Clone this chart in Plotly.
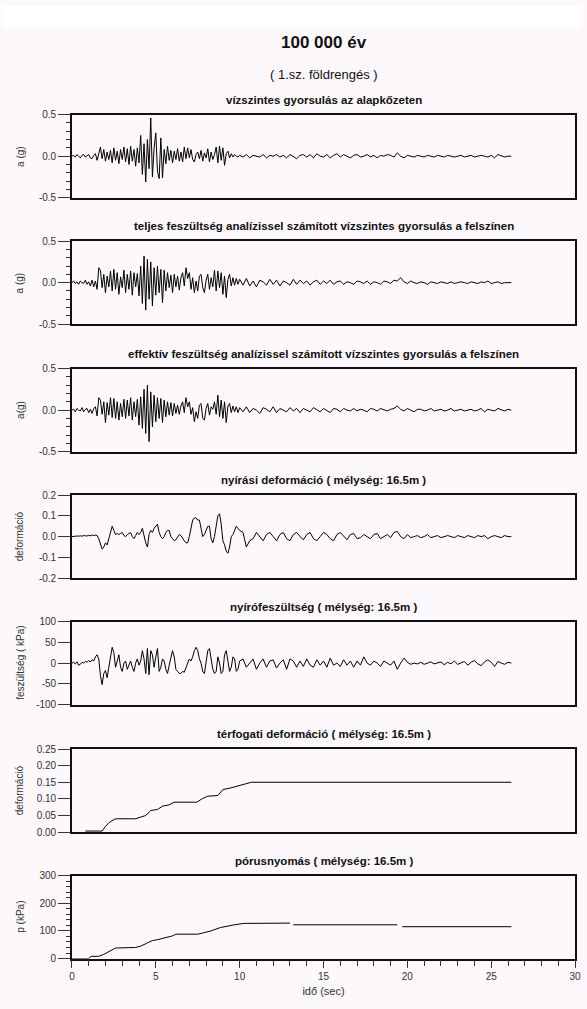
import plotly.graph_objects as go

W, H = 587, 1009

# ---------------- data ----------------
t_fine = [round(0.1 * i, 1) for i in range(100)]          # 0.0 .. 9.9 s
t_coarse = [round(10 + 0.2 * i, 1) for i in range(82)]    # 10.0 .. 26.2 s
time_s = t_fine + t_coarse

acc_rock = [
    0.00, 0.01, -0.01, 0.02, 0.00, -0.02, 0.01, 0.02, -0.01, 0.00, 0.02, -0.02, -0.03, 0.01, 0.03,
    -0.05, 0.04, 0.11, -0.03, 0.08,
    -0.06, 0.05, -0.04, 0.07, -0.08,
    0.10, -0.05, 0.06, -0.09, 0.08,
    -0.04, 0.11, -0.07, 0.09, -0.10,
    0.12, -0.06, 0.08, -0.12, 0.10,
    -0.08, 0.25, -0.22, 0.15, -0.31,
    0.20, -0.15, 0.46, -0.25, 0.10,
    0.28, -0.18, -0.27, 0.22, -0.26,
    0.08, -0.09, 0.12, -0.05, 0.07,
    -0.08, 0.06, -0.04, 0.09, -0.06,
    0.05, -0.07, 0.11, -0.03, 0.10,
    -0.02, 0.08, -0.04, -0.07, 0.02,
    0.05, -0.03, 0.07, -0.06, 0.04,
    -0.02, 0.09, -0.07, 0.05, -0.04,
    0.02, 0.11, -0.08, 0.12, -0.05,
    0.10, -0.11, 0.03, 0.06, -0.02,
    0.03, -0.01, 0.02, 0.00, -0.01,
    0.01, -0.01, 0.02, -0.02, 0.01, 0.00, -0.01, 0.02, -0.02, 0.01,
    0.00, 0.02, -0.01, 0.01, -0.02, 0.02, 0.00, -0.03, 0.01, 0.02,
    -0.01, 0.02, -0.02, 0.03, 0.00, -0.01, 0.02, -0.02, 0.01, 0.03,
    -0.01, 0.02, 0.00, -0.02, 0.01, 0.02, -0.01, 0.00, 0.02, -0.01,
    0.01, -0.02, 0.01, 0.00, 0.02, 0.01, -0.01, 0.04, 0.00, -0.02,
    0.01, 0.00, -0.01, 0.01, 0.00, -0.01, 0.01, 0.00, -0.01, 0.01,
    0.00, -0.01, 0.01, 0.00, -0.01, 0.00, 0.01, -0.01, 0.00, 0.01,
    -0.01, 0.00, 0.01, 0.00, -0.01, 0.01, -0.02, 0.02, 0.00, -0.01,
    0.00, 0.00,
]

acc_total = [
    0.00, 0.02, -0.01, 0.01, -0.02, 0.02, 0.00, -0.01, 0.03, -0.02, 0.01, -0.04, 0.03, -0.05, 0.02,
    -0.08, 0.18, 0.15, -0.06, 0.10,
    -0.12, 0.08, -0.05, 0.14, -0.10,
    0.16, -0.08, 0.12, -0.14, 0.07,
    -0.06, 0.15, -0.12, 0.10, -0.08,
    0.14, -0.15, 0.12, -0.05, 0.11,
    -0.16, 0.20, -0.25, 0.32, -0.33,
    0.28, -0.20, 0.25, -0.28, 0.18,
    -0.15, 0.20, -0.12, 0.16, -0.24,
    0.15, -0.10, 0.12, -0.06, 0.09,
    -0.12, 0.10, -0.05, 0.08, -0.09,
    0.06, 0.12, -0.04, 0.18, 0.05,
    0.12, -0.08, 0.06, -0.12, 0.02,
    -0.10, 0.08, 0.10, -0.06, -0.12,
    0.03, 0.10, -0.08, 0.06, -0.05,
    0.15, -0.10, 0.14, -0.06, 0.12,
    -0.14, 0.08, -0.18, 0.04, 0.10,
    -0.04, 0.06, -0.03, 0.05, -0.02,
    0.04, -0.03, 0.05, -0.04, 0.02, -0.05, 0.03, 0.01, -0.03, 0.04,
    -0.02, 0.03, -0.04, 0.02, 0.00, -0.03, 0.04, -0.02, 0.03, -0.01,
    0.02, -0.03, 0.01, 0.03, -0.02, 0.02, -0.01, 0.03, -0.02, 0.01,
    0.02, -0.02, 0.01, 0.00, -0.02, 0.02, 0.01, -0.01, 0.02, -0.02,
    0.01, 0.00, -0.02, 0.02, 0.01, -0.01, 0.03, 0.02, 0.06, 0.01,
    -0.01, 0.02, 0.00, -0.01, 0.01, 0.00, -0.02, 0.01, 0.00, -0.01,
    0.01, 0.00, -0.01, 0.01, -0.01, 0.00, 0.01, 0.00, -0.01, 0.01,
    0.00, -0.01, 0.01, 0.00, 0.02, -0.01, 0.00, 0.01, -0.01, 0.00,
    0.00, 0.00,
]

acc_eff = [
    0.00, 0.01, -0.02, 0.02, 0.00, -0.01, 0.03, -0.02, 0.01, 0.02, -0.03, 0.01, -0.04, 0.02, 0.04,
    -0.07, 0.15, 0.12, -0.05, 0.10,
    -0.15, 0.09, -0.06, 0.15, -0.09,
    0.14, -0.10, 0.10, -0.12, 0.08,
    -0.08, 0.13, -0.10, 0.12, -0.07,
    0.15, -0.12, 0.10, -0.08, 0.13,
    -0.18, 0.16, -0.22, 0.25, -0.28,
    0.30, -0.38, 0.22, -0.20, 0.18,
    -0.14, 0.15, -0.10, 0.14, -0.15,
    0.12, -0.08, 0.10, -0.06, 0.09,
    -0.07, 0.08, -0.04, 0.06, -0.05,
    0.05, 0.10, -0.03, 0.15, 0.04,
    0.10, -0.05, 0.03, -0.14, -0.02,
    -0.10, 0.06, 0.08, -0.10, -0.12,
    0.02, 0.08, -0.06, 0.04, 0.01,
    0.10, -0.05, 0.18, -0.08, 0.12,
    -0.10, 0.10, -0.15, 0.05, 0.08,
    -0.03, 0.05, -0.02, 0.04, -0.03,
    0.03, -0.02, 0.04, -0.03, 0.02, 0.00, -0.04, 0.03, 0.01, -0.02,
    0.04, -0.03, 0.02, 0.00, -0.02, 0.03, -0.01, 0.02, -0.03, 0.02,
    0.00, -0.02, 0.03, 0.01, -0.02, 0.02, 0.00, -0.03, 0.02, 0.01,
    -0.02, 0.02, 0.00, -0.01, 0.02, -0.01, 0.01, 0.00, -0.02, 0.02,
    0.01, -0.01, 0.02, 0.00, -0.01, 0.01, 0.02, 0.05, 0.01, -0.01,
    0.02, 0.00, -0.02, 0.01, 0.01, -0.01, 0.00, 0.02, -0.01, 0.00,
    0.01, -0.01, 0.00, 0.02, -0.01, 0.00, 0.01, -0.01, 0.00, 0.01,
    -0.01, 0.00, 0.02, -0.02, 0.01, 0.00, -0.01, 0.02, 0.00, -0.01,
    0.01, 0.00,
]

shear_strain = [
    0.000, 0.002, 0.001, 0.003, 0.002, 0.004, 0.002, 0.005, 0.004, 0.003, 0.006, 0.004, 0.008, 0.005, 0.007,
    0.005, -0.01, -0.04, -0.06, -0.05,
    -0.03, -0.04, -0.01, 0.02, 0.05,
    0.03, 0.01, 0.015, 0.01, 0.015,
    0.02, 0.005, 0.00, 0.01, 0.015,
    0.02, 0.00, -0.01, 0.005, 0.02,
    0.01, 0.02, 0.04, 0.00, -0.03,
    -0.05, 0.01, 0.03, 0.02, 0.04,
    0.05, 0.06, 0.02, 0.00, -0.01,
    0.00, 0.02, 0.03, 0.03, 0.00,
    -0.01, -0.02, -0.015, 0.00, 0.01,
    0.005, -0.01, -0.02, -0.03, -0.03,
    0.00, 0.04, 0.08, 0.09, 0.09,
    0.08, 0.08, 0.04, 0.00, 0.01,
    0.03, 0.05, 0.05, -0.01, -0.03,
    0.00, 0.05, 0.10, 0.11, 0.06,
    -0.02, -0.04, -0.07, -0.08, -0.05,
    0.00, 0.01, 0.03, 0.05, 0.04,
    0.03, 0.02, -0.05, -0.02, -0.01, 0.02, 0.00, -0.02, 0.01, 0.02,
    0.00, -0.02, 0.01, 0.02, -0.01, -0.02, 0.01, 0.02, 0.00, -0.015,
    0.01, 0.02, -0.01, -0.02, 0.00, 0.02, 0.01, -0.01, -0.02, 0.01,
    0.02, 0.00, -0.015, 0.01, 0.015, -0.01, -0.005, 0.01, 0.00, -0.01,
    0.01, 0.015, -0.01, 0.00, 0.01, -0.005, 0.02, 0.025, 0.00, -0.01,
    0.01, -0.005, 0.00, 0.005, -0.005, 0.00, 0.01, -0.005, 0.00, 0.005,
    -0.005, 0.00, 0.005, 0.00, -0.005, 0.005, 0.00, -0.005, 0.005, 0.00,
    -0.005, 0.005, 0.00, 0.005, -0.01, 0.00, 0.005, 0.00, -0.005, 0.005,
    0.00, 0.00,
]

shear_stress = [
    0, 2, -2, 3, -5, -3, 2, 0, 4, 2, 6, 3, 8, 5, 15,
    20, 10, -30, -52, -25,
    -18, -35, -10, 15, 38,
    25, -10, 5, 20, -10,
    -20, 0, 5, -15, -5,
    5, -10, -20, 0, 10,
    -5, 5, 30, 10, -25,
    35, -28, 30, 20, -10,
    15, 35, -20, -10, 10,
    5, -15, -25, -5, 10,
    30, 15, -15, -20, -25,
    -25, -20, -22, -10, 0,
    10, 5, 15, 30, 38,
    30, 10, 0, -20, -25,
    5, 30, 35, 10, -15,
    -25, -20, 15, 0, -25,
    -20, 20, 30, 5, -20,
    -10, 15, 10, -20, -15,
    5, 10, -10, 0, 10, -15, 0, 10, -10, 5,
    8, -12, 0, 8, -15, 10, 5, -10, 5, -8,
    10, -5, -10, 8, -5, 5, -10, 12, -5, 0,
    -8, 8, -5, 5, -10, 5, -5, 15, 0, -5,
    5, 0, -8, 5, 0, -5, 5, -15, 0, 12,
    2, -3, 0, -2, 2, -3, 0, 3, -2, 0,
    3, -4, 2, -2, 5, -3, 0, 4, -5, 2,
    6, -2, -6, 3, 8, 2, -8, 4, 0, -3,
    2, 0,
]

vol_t = [0.8, 1.8, 2.0, 2.25, 2.55, 2.7, 3.8, 4.1, 4.4, 4.7, 5.1, 5.4, 5.8, 6.1,
         7.45, 7.75, 8.1, 8.7, 9.0, 9.4, 9.8, 10.3, 10.7, 26.2]
vol_strain = [0.003, 0.003, 0.017, 0.03, 0.039, 0.04, 0.04, 0.045, 0.05, 0.065, 0.068,
              0.078, 0.082, 0.09, 0.09, 0.10, 0.108, 0.11, 0.128, 0.132, 0.138, 0.145,
              0.15, 0.15]

pore_t = [0, 1.0, 1.15, 1.6, 1.9, 2.25, 2.6, 3.8, 4.1, 4.45, 4.8, 5.1, 5.55, 6.0, 6.2,
          7.5, 7.85, 8.3, 8.85, 9.2, 9.7, 10.25, 13.0, 13.1, 13.2, 19.4, 19.55, 19.7, 26.2]
pore_p = [0, 0, 8, 8, 15, 28, 38, 40, 45, 55, 65, 68, 75, 82, 88, 88, 93, 100, 112, 117,
          122, 127, 128, None, 122, 122, None, 115, 115]

x_ticks = [0, 5, 10, 15, 20, 25, 30]

panel_titles = [
    "vízszintes gyorsulás az alapkőzeten",
    "teljes feszültség analízissel számított vízszintes gyorsulás a felszínen",
    "effektív feszültség analízissel számított vízszintes gyorsulás a felszínen",
    "nyírási deformáció ( mélység: 16.5m )",
    "nyírófeszültség ( mélység: 16.5m )",
    "térfogati deformáció ( mélység: 16.5m )",
    "pórusnyomás ( mélység: 16.5m )",
]
y_titles = ["a (g)", "a (g)", "a(g)", "deformáció", "feszültség ( kPa)", "deformáció", "p (kPa)"]

y_ranges = [[-0.5, 0.5], [-0.5, 0.5], [-0.5, 0.5], [-0.2, 0.2], [-100, 100], [0, 0.25], [0, 300]]
y_tickvals = [
    [-0.5, 0.0, 0.5], [-0.5, 0.0, 0.5], [-0.5, 0.0, 0.5],
    [-0.2, -0.1, 0.0, 0.1, 0.2],
    [-100, -50, 0, 50, 100],
    [0, 0.05, 0.10, 0.15, 0.20, 0.25],
    [0, 100, 200, 300],
]
y_ticktext = [
    ["-0.5", "0.0", "0.5"], ["-0.5", "0.0", "0.5"], ["-0.5", "0.0", "0.5"],
    ["-0.2", "-0.1", "0.0", "0.1", "0.2"],
    ["-100", "-50", "0", "50", "100"],
    ["0.00", "0.05", "0.10", "0.15", "0.20", "0.25"],
    ["0", "100", "200", "300"],
]
y_minor = [
    [-0.4, -0.3, -0.2, -0.1, 0.1, 0.2, 0.3, 0.4],
    [-0.4, -0.3, -0.2, -0.1, 0.1, 0.2, 0.3, 0.4],
    [-0.4, -0.3, -0.2, -0.1, 0.1, 0.2, 0.3, 0.4],
    [], [], [],
    [20, 40, 60, 80, 120, 140, 160, 180, 220, 240, 260, 280],
]

# ---------------- layout helpers ----------------
FONT = "Liberation Sans, Arial, sans-serif"
BG = "#FCF8FC"
X0, X1 = 70, 581
tops = [110, 238, 367, 495, 623, 752, 880]
PH = 84


def py(px):
    return 1 - px / H


series = [
    (time_s, acc_rock), (time_s, acc_total), (time_s, acc_eff),
    (time_s, shear_strain), (time_s, shear_stress),
    (vol_t, vol_strain), (pore_t, pore_p),
]

fig = go.Figure()
layout = dict(
    width=W, height=H,
    margin=dict(l=0, r=0, t=0, b=0),
    paper_bgcolor=BG, plot_bgcolor=BG,
    showlegend=False,
    font=dict(family=FONT, size=10, color="#222"),
)
annotations = []

for i, (xs, ys) in enumerate(series):
    n = i + 1
    sx = "" if n == 1 else str(n)
    fig.add_trace(go.Scatter(
        x=xs, y=ys, mode="lines", xaxis="x" + sx, yaxis="y" + sx,
        line=dict(color="black", width=1), connectgaps=False,
    ))
    top = tops[i]
    bot = top + PH
    last = (n == 7)
    layout["xaxis" + sx] = dict(
        domain=[X0 / W, X1 / W], range=[0, 30], anchor="y" + sx,
        showline=True, mirror=True, linecolor="#111", linewidth=1.5,
        showgrid=False, zeroline=False,
        showticklabels=last,
        tickvals=x_ticks if last else [],
        ticks="outside" if last else "",
        ticklen=8, tickcolor="#333", tickwidth=1,
        minor=dict(tickvals=[v for v in range(1, 30) if v % 5] if last else [],
                   ticks="outside" if last else "", ticklen=6, tickcolor="#333"),
        tickfont=dict(size=10, color="#333"),
        title=dict(text="idő (sec)" if last else "", font=dict(size=11, color="#333"), standoff=6),
    )
    layout["yaxis" + sx] = dict(
        domain=[py(bot), py(top)], range=y_ranges[i], anchor="x" + sx,
        showline=True, mirror=True, linecolor="#111", linewidth=1.5,
        showgrid=False, zeroline=False,
        tickmode="array", tickvals=y_tickvals[i], ticktext=y_ticktext[i],
        ticks="outside", ticklen=12, tickcolor="#333", tickwidth=1,
        minor=dict(tickvals=y_minor[i], ticks="outside" if y_minor[i] else "",
                   ticklen=4, tickcolor="#333"),
        tickfont=dict(size=10, color="#333"),
    )
    annotations.append(dict(
        text="<b>" + panel_titles[i] + "</b>", x=(X0 + X1) / 2 / W, y=py(top - 15),
        xref="paper", yref="paper", showarrow=False, xanchor="center", yanchor="middle",
        font=dict(size=11.5, color="#111", family=FONT),
    ))
    annotations.append(dict(
        text=y_titles[i], x=17 / W, y=py(top + PH / 2),
        xref="paper", yref="paper", showarrow=False, xanchor="center", yanchor="middle",
        textangle=-90, font=dict(size=10, color="#333", family=FONT),
    ))

annotations.append(dict(
    text="<b>100 000 év</b>", x=(X0 + X1) / 2 / W, y=py(37), xref="paper", yref="paper",
    showarrow=False, xanchor="center", yanchor="middle",
    font=dict(size=17, color="#111", family=FONT),
))
annotations.append(dict(
    text="( 1.sz. földrengés )", x=(X0 + X1) / 2 / W, y=py(69), xref="paper", yref="paper",
    showarrow=False, xanchor="center", yanchor="middle",
    font=dict(size=13, color="#111", family=FONT),
))

layout["annotations"] = annotations
layout["shapes"] = [dict(type="rect", xref="paper", yref="paper", x0=0, x1=1,
                         y0=py(22), y1=1, fillcolor="white", line=dict(width=0), layer="below")]
fig.update_layout(**layout)

fig.write_html("out.html")
